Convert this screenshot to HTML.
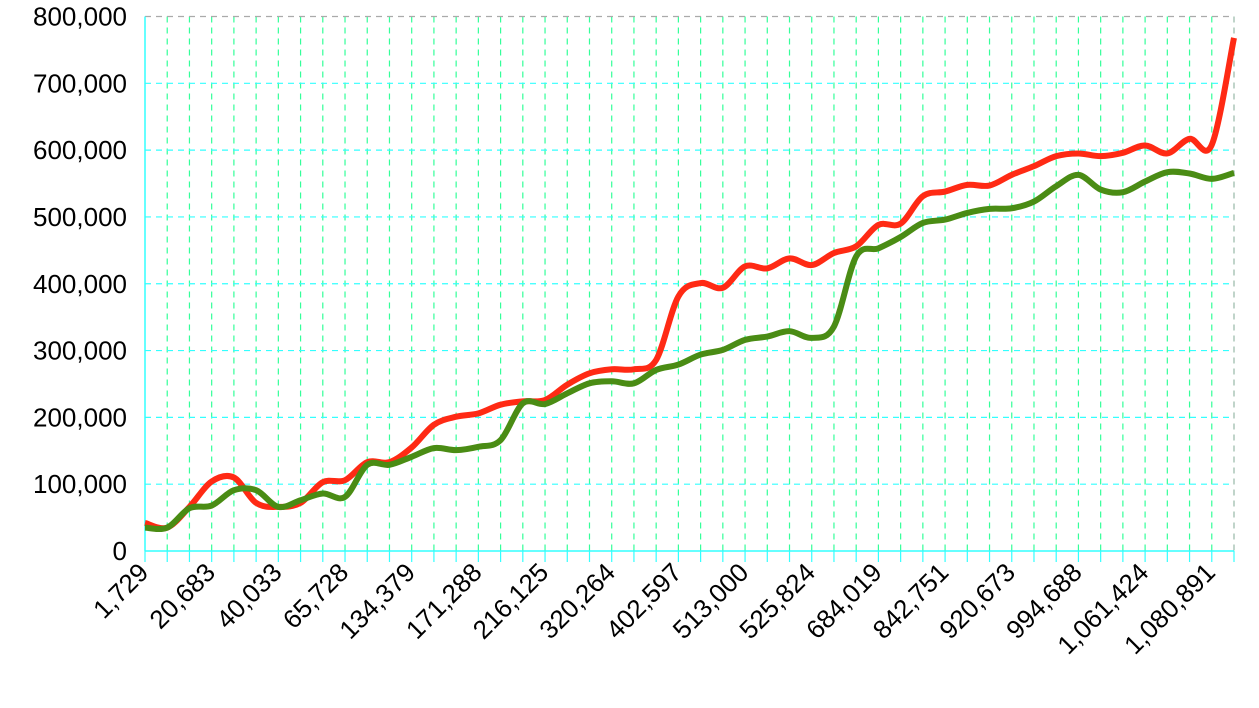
<!DOCTYPE html>
<html><head><meta charset="utf-8"><style>
html,body{margin:0;padding:0;background:#fff;}
svg{display:block;font-family:"Liberation Sans",sans-serif;}
</style></head><body>
<svg id="chart" width="1259" height="708" viewBox="0 0 1259 708" xmlns="http://www.w3.org/2000/svg">
<g id="grid"></g>
<g id="yaxis"></g>
<g id="xaxis"></g>
<g id="series"></g>
</svg>
<script>
const tickLabels = ["1,729","20,683","40,033","65,728","134,379","171,288","216,125","320,264","402,597","513,000","525,824","684,019","842,751","920,673","994,688","1,061,424","1,080,891"];
const yTicks = [0,100000,200000,300000,400000,500000,600000,700000,800000];
const redValues = [42,35,66,104,110,72,66,72,103,106,133,133,155,189,201,206,219,224,226,249,266,272,272,286,381,401,394,426,423,438,428,446,456,488,490,531,538,548,547,563,576,591,595,591,596,607,595,617,608,768];
const greenValues = [35,35,64,68,91,91,66,76,86,81,129,129,141,154,151,156,166,221,220,236,251,254,251,271,279,294,301,316,321,329,319,336,441,453,470,491,496,506,512,513,523,546,563,541,537,553,567,565,557,566];

const NS="http://www.w3.org/2000/svg";
const X0=145, X1=1234, Y0=551, Y1=16.5, N=redValues.length;
const xs=i=>X0+(X1-X0)*i/(N-1);
const ys=v=>Y0-(Y0-Y1)*v/800000;
function mk(t,a,p){const e=document.createElementNS(NS,t);for(const k in a)e.setAttribute(k,a[k]);p.appendChild(e);return e;}
const grid=document.getElementById('grid'),ya=document.getElementById('yaxis'),xa=document.getElementById('xaxis'),sr=document.getElementById('series');
for(let i=1;i<N;i++){
  const l=mk('line',{x1:xs(i),x2:xs(i),y1:Y1,y2:Y0,stroke:'#33ff99','stroke-width':1.2,'stroke-dasharray':'6,5'},grid);
  
  
}
yTicks.forEach(v=>{
  const y=ys(v);
  if(v>0){const l=mk('line',{x1:X0,x2:X1,y1:y,y2:y,stroke:v==800000?'#aaaaaa':'#33ffff','stroke-width':1.2,'stroke-dasharray':'6,5'},grid);
  
  }
  const t=mk('text',{x:127,y:y+9,'text-anchor':'end','font-size':26,fill:'#000'},ya);
  t.textContent=v.toLocaleString('en-US');
  
  
});
mk('line',{x1:X1,x2:X1,y1:Y1,y2:Y0,stroke:'#aaaaaa','stroke-width':1,'stroke-dasharray':'6,5'},grid);
const ax=mk('line',{x1:X0,x2:X1,y1:Y0,y2:Y0,stroke:'#33ffff','stroke-width':1.5},xa);


const ay=mk('line',{x1:X0,x2:X0,y1:Y1,y2:Y0,stroke:'#33ffff','stroke-width':1.5},ya);


for(let i=0;i<N;i++){mk('line',{x1:xs(i),x2:xs(i),y1:Y0,y2:Y0+11,stroke:'#33ffff','stroke-width':1.2},xa);}
tickLabels.forEach((s,k)=>{
  const x=xs(k*3)+5,y=574;
  const t=mk('text',{x:x,y:y,'text-anchor':'end','font-size':26,fill:'#000',transform:`rotate(-45 ${x} ${y})`},xa);
  t.textContent=s;
  
  
});
function path(vals){
  const p=vals.map((v,i)=>[xs(i),ys(v*1000)]);
  let d=`M${p[0][0]},${p[0][1]}`;
  for(let i=0;i<p.length-1;i++){
    const a=p[Math.max(0,i-1)],b=p[i],c=p[i+1],e=p[Math.min(p.length-1,i+2)];
    const c1=[b[0]+(c[0]-a[0])/6,b[1]+(c[1]-a[1])/6],c2=[c[0]-(e[0]-b[0])/6,c[1]-(e[1]-b[1])/6];
    d+=` C${c1[0]},${c1[1]} ${c2[0]},${c2[1]} ${c[0]},${c[1]}`;
  }
  return d;
}
const r=mk('path',{d:path(redValues),fill:'none',stroke:'#ff2a14','stroke-width':6,'stroke-linejoin':'round'},sr);


const g=mk('path',{d:path(greenValues),fill:'none',stroke:'#4a8c14','stroke-width':6,'stroke-linejoin':'round'},sr);


</script>
</body></html>
